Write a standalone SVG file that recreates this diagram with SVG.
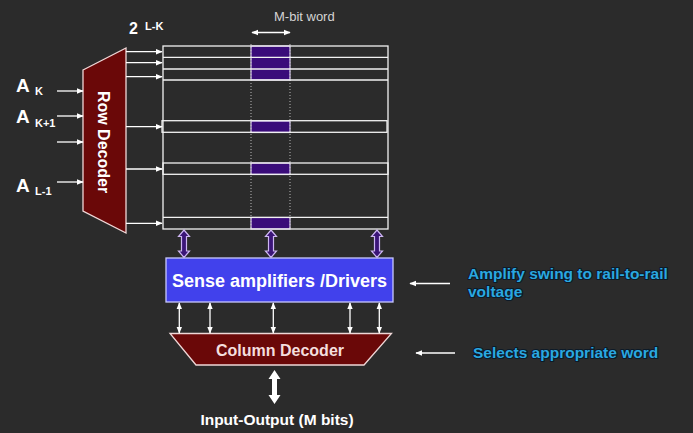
<svg xmlns="http://www.w3.org/2000/svg" width="693" height="433" viewBox="0 0 693 433">
<defs>
<style>
.bg{fill:#2b2b2b}
.lbl{font-family:"Liberation Sans",Arial,sans-serif;font-weight:bold;fill:#ffffff}
.note{font-family:"Liberation Sans",Arial,sans-serif;font-weight:bold;font-size:15.5px;fill:#2aa8e0;stroke:#0c1a28;stroke-width:2.2px;paint-order:stroke;stroke-linejoin:round}
.wl{stroke:#f2f2f2;stroke-width:1.3;fill:none}
.cell{fill:#3a0c7a;stroke:#d8c8f0;stroke-width:1.2}
.dot{stroke:#bbbbbb;stroke-width:1;stroke-dasharray:1 2;fill:none}
.dec{fill:#6a0808;stroke:#f0d8d8;stroke-width:1.3}
.pa{fill:#3b1578;stroke:#cdb6f2;stroke-width:1.2}
.arr{stroke:#ffffff;stroke-width:1.3;fill:none}
</style>
<marker id="ah" viewBox="0 0 10 10" refX="9" refY="5" markerWidth="7" markerHeight="7" orient="auto-start-reverse" markerUnits="userSpaceOnUse">
<path d="M0,1 L10,5 L0,9 Z" fill="#ffffff"/>
</marker>
</defs>
<rect class="bg" x="0" y="0" width="693" height="433"/>

<g id="address-labels">
<text class="lbl" x="16" y="92" font-size="19">A</text><text class="lbl" x="35" y="95" font-size="11">K</text>
<text class="lbl" x="16" y="123" font-size="19">A</text><text class="lbl" x="35" y="127" font-size="11">K+1</text>
<text class="lbl" x="16" y="192" font-size="19">A</text><text class="lbl" x="35" y="195" font-size="11">L-1</text>
</g>

<g id="size-label">
<text class="lbl" x="129" y="34" font-size="16">2</text><text class="lbl" x="145" y="30" font-size="11">L-K</text>
</g>

<g id="mbit-label">
<text x="274" y="21" font-family="Liberation Sans,Arial,sans-serif" font-size="13" fill="#d4d4d4">M-bit word</text>
</g>

<g id="row-decoder">
<polygon class="dec" points="83,70 126,48 126,233 83,211"/>
<text class="lbl" font-size="16" text-anchor="middle" transform="translate(104,142) rotate(90)" x="0" y="6">Row Decoder</text>
</g>

<g id="memory-array">
<rect x="251" y="46" width="39" height="34" class="cell"/>
<rect x="251" y="121" width="39" height="11.5" class="cell"/>
<rect x="251" y="163" width="39" height="11.5" class="cell"/>
<rect x="251" y="217.5" width="39" height="11.5" class="cell"/>
<line class="dot" x1="251" y1="44" x2="251" y2="229"/>
<line class="dot" x1="290" y1="44" x2="290" y2="229"/>
<rect class="wl" x="163" y="46" width="225" height="183"/>
<line class="wl" x1="163" y1="57.3" x2="388" y2="57.3"/>
<line class="wl" x1="163" y1="69" x2="388" y2="69"/>
<line class="wl" x1="163" y1="80" x2="388" y2="80"/>
<rect class="wl" x="162" y="120.7" width="225" height="11.6"/>
<rect class="wl" x="163" y="163" width="225" height="11.3"/>
<line class="wl" x1="163" y1="217.3" x2="388" y2="217.3"/>
</g>

<g id="sense-amplifiers">
<rect x="166" y="258" width="227" height="44" fill="#4141ec" stroke="#c8c8ff" stroke-width="1.3"/>
<text class="lbl" x="279.5" y="287" font-size="18" text-anchor="middle">Sense amplifiers /Drivers</text>
</g>

<g id="column-decoder">
<polygon class="dec" points="170,333.5 391.5,333.5 364,365 196,365"/>
<text class="lbl" x="280" y="355.5" font-size="16" text-anchor="middle" fill="#f4dede" style="fill:#f4dede">Column Decoder</text>
</g>

<g id="io-label">
<text class="lbl" x="277" y="425" font-size="15.5" text-anchor="middle">Input-Output (M bits)</text>
</g>

<g id="note-amplify">
<text class="note" x="468" y="279">Amplify swing to rail-to-rail</text>
<text class="note" x="468" y="297">voltage</text>
</g>

<g id="note-selects">
<text class="note" x="473" y="358">Selects appropriate word</text>
</g>

<g id="connectors">
<line class="arr" x1="57" y1="91" x2="83" y2="91" marker-end="url(#ah)"/>
<line class="arr" x1="57" y1="116" x2="83" y2="116" marker-end="url(#ah)"/>
<line class="arr" x1="57" y1="142" x2="83" y2="142" marker-end="url(#ah)"/>
<line class="arr" x1="57" y1="182" x2="83" y2="182" marker-end="url(#ah)"/>
<line class="arr" x1="126" y1="51.7" x2="162" y2="51.7" marker-end="url(#ah)"/>
<line class="arr" x1="126" y1="62.7" x2="162" y2="62.7" marker-end="url(#ah)"/>
<line class="arr" x1="126" y1="76.7" x2="162" y2="76.7" marker-end="url(#ah)"/>
<line class="arr" x1="126" y1="126.7" x2="162" y2="126.7" marker-end="url(#ah)"/>
<line class="arr" x1="126" y1="169" x2="162" y2="169" marker-end="url(#ah)"/>
<line class="arr" x1="126" y1="223.3" x2="162" y2="223.3" marker-end="url(#ah)"/>
<line class="arr" x1="252" y1="32.5" x2="290" y2="32.5" marker-start="url(#ah)" marker-end="url(#ah)"/>
<path class="pa" d="M184,230 L189.5,236.5 L186.5,236.5 L186.5,251 L189.5,251 L184,257.5 L178.5,251 L181.5,251 L181.5,236.5 L178.5,236.5 Z"/>
<path class="pa" d="M271,230 L276.5,236.5 L273.5,236.5 L273.5,251 L276.5,251 L271,257.5 L265.5,251 L268.5,251 L268.5,236.5 L265.5,236.5 Z"/>
<path class="pa" d="M377,230 L382.5,236.5 L379.5,236.5 L379.5,251 L382.5,251 L377,257.5 L371.5,251 L374.5,251 L374.5,236.5 L371.5,236.5 Z"/>
<line class="arr" x1="179.3" y1="303" x2="179.3" y2="333" marker-start="url(#ah)" marker-end="url(#ah)"/>
<line class="arr" x1="210" y1="303" x2="210" y2="333" marker-start="url(#ah)" marker-end="url(#ah)"/>
<line class="arr" x1="273.3" y1="303" x2="273.3" y2="333" marker-start="url(#ah)" marker-end="url(#ah)"/>
<line class="arr" x1="350" y1="303" x2="350" y2="333" marker-start="url(#ah)" marker-end="url(#ah)"/>
<line class="arr" x1="379.3" y1="303" x2="379.3" y2="333" marker-start="url(#ah)" marker-end="url(#ah)"/>
<path d="M274.5,370 L280.5,379 L277,379 L277,395 L280.5,395 L274.5,404 L268.5,395 L272,395 L272,379 L268.5,379 Z" fill="#ffffff"/>
<line class="arr" x1="450" y1="283.5" x2="410" y2="283.5" stroke-width="2" marker-end="url(#ah)"/>
<line class="arr" x1="455" y1="353" x2="416" y2="353" stroke-width="2" marker-end="url(#ah)"/>
</g>
</svg>
